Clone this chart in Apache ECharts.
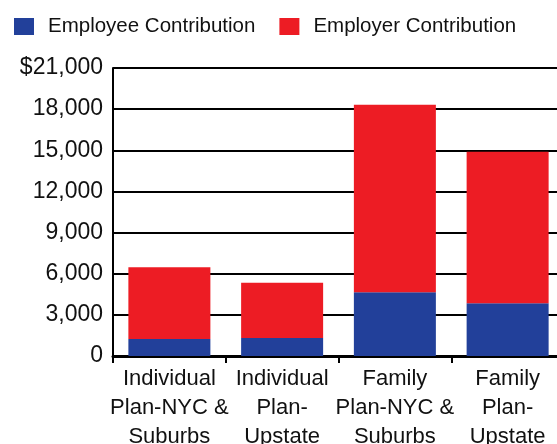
<!DOCTYPE html>
<html>
<head>
<meta charset="utf-8">
<script src="https://cdn.jsdelivr.net/npm/echarts@6/dist/echarts.min.js"></script>
<style>
  html, body { margin: 0; padding: 0; background: #fff; }
  #chart { width: 557px; height: 444px; }
</style>
</head>
<body>
<div id="chart"></div>
<script>
// Annual premium contributions by plan type
const categories = [
  'Individual\nPlan-NYC &\nSuburbs',
  'Individual\nPlan-\nUpstate',
  'Family\nPlan-NYC &\nSuburbs',
  'Family\nPlan-\nUpstate'
];
const employeeContribution = [1240, 1310, 4650, 3850];
const employerContribution = [5230, 4040, 13670, 11050];
const yTicks = { min: 0, max: 21000, interval: 3000 };

const FONT = '"Liberation Sans", Arial, sans-serif';
const BLUE = '#22409A';
const RED = '#ED1C24';

function fmt(v) {
  const s = v.toLocaleString('en-US');
  return v === yTicks.max ? '$' + s : s;
}

const chart = echarts.init(document.getElementById('chart'), null, { renderer: 'canvas' });
chart.setOption({
  animation: false,
  backgroundColor: '#fff',
  legend: {
    left: 14,
    top: 16,
    padding: 0,
    itemWidth: 20,
    itemHeight: 17,
    itemGap: 24,
    icon: 'rect',
    textStyle: { fontFamily: FONT, fontSize: 20.5, color: '#111', padding: [0, 0, 0, 9] },
    data: ['Employee Contribution', 'Employer Contribution']
  },
  // plot area runs slightly past the right edge of the canvas
  grid: {
    left: 113, top: 68, width: 451, height: 288,
    containLabel: false,
    outerBoundsMode: 'none'
  },
  xAxis: {
    type: 'category',
    data: categories,
    axisLine: { lineStyle: { color: '#000', width: 3 } },
    axisTick: { show: true, length: 7, lineStyle: { color: '#000', width: 2 } },
    axisLabel: {
      fontFamily: FONT, fontSize: 22, color: '#111', lineHeight: 29, margin: 8,
      interval: 0, align: 'center'
    }
  },
  yAxis: {
    type: 'value',
    min: yTicks.min,
    max: yTicks.max,
    interval: yTicks.interval,
    axisLine: { show: true, lineStyle: { color: '#000', width: 2 } },
    axisTick: { show: false },
    splitLine: { show: true, lineStyle: { color: '#000', width: 2 } },
    axisLabel: {
      fontFamily: FONT, fontSize: 23, color: '#111', margin: 10,
      formatter: fmt
    }
  },
  series: [
    {
      name: 'Employee Contribution',
      type: 'bar',
      stack: 'total',
      barWidth: 82,
      itemStyle: { color: BLUE },
      data: employeeContribution
    },
    {
      name: 'Employer Contribution',
      type: 'bar',
      stack: 'total',
      barWidth: 82,
      itemStyle: { color: RED },
      data: employerContribution
    }
  ]
});
</script>
</body>
</html>
